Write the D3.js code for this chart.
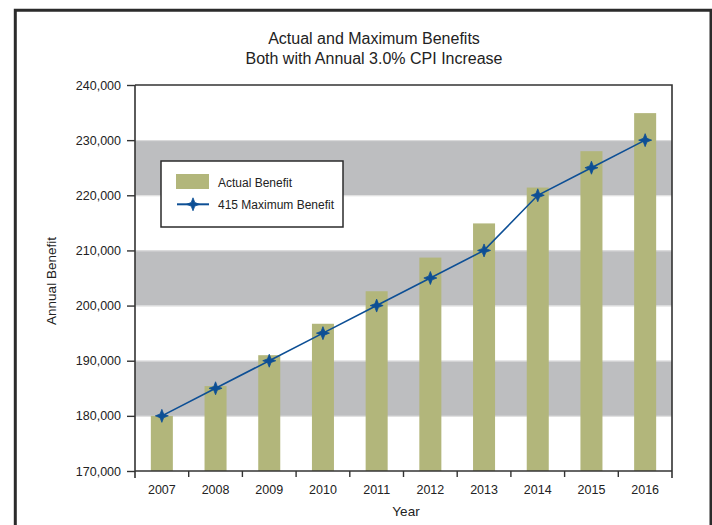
<!DOCTYPE html>
<html><head><meta charset="utf-8">
<script src="https://cdn.jsdelivr.net/npm/d3@7"></script>
<style>
html,body{margin:0;padding:0;background:#fff;}
svg{display:block;font-family:"Liberation Sans",Arial,sans-serif;}
</style></head>
<body><svg id="c" width="712" height="525"></svg>
<script>
const years = ["2007","2008","2009","2010","2011","2012","2013","2014","2015","2016"];
const actualBenefit = [180000,185400,191000,196700,202600,208700,214900,221400,228000,234900];
const maxBenefit = [180000,185000,190000,195000,200000,205000,210000,220000,225000,230000];
const yTicks = [170000,180000,190000,200000,210000,220000,230000,240000];
const bandRanges = [[180000,190000],[200000,210000],[220000,230000]];
const titleLines = ["Actual and Maximum Benefits","Both with Annual 3.0% CPI Increase"];

const svg = d3.select("#c");
const L=135, R=672, T=85, B=471;
const x = d3.scaleBand().domain(years).range([L,R]).paddingInner(0.59).paddingOuter(0.295);
const xc = d3.scaleBand().domain(years).range([L,R]);
const y = d3.scaleLinear().domain([170000,240000]).range([B,T]);

const axisCol="#333";
// outer frame
svg.append("path").attr("d","M15.3,530V10.3H711V530").attr("fill","none").attr("stroke","#2b2b2b").attr("stroke-width",3);

// title
svg.append("g").selectAll("text").data(titleLines).join("text")
  .attr("x",374).attr("y",(d,i)=>44+i*20).attr("text-anchor","middle")
  .attr("font-size",16).attr("fill","#222").text(d=>d);

// bands
svg.append("g").selectAll("rect").data(bandRanges).join("rect")
  .attr("x",L).attr("width",R-L).attr("y",d=>y(d[1])).attr("height",d=>y(d[0])-y(d[1]))
  .attr("fill","#bdbec0");
svg.append("g").selectAll("line").data(yTicks.slice(1,-1)).join("line")
  .attr("x1",L).attr("x2",R).attr("y1",d=>y(d)+0.5).attr("y2",d=>y(d)+0.5)
  .attr("stroke","#dcdcdc").attr("stroke-width",1);

// bars
svg.append("g").selectAll("rect").data(years).join("rect")
  .attr("x",d=>x(d)).attr("width",x.bandwidth())
  .attr("y",(d,i)=>y(actualBenefit[i])).attr("height",(d,i)=>B-y(actualBenefit[i]))
  .attr("fill","#b2b67b");

// plot frame top/right
svg.append("path").attr("d",`M${L},${T}H${R}V${B+7}`).attr("fill","none").attr("stroke",axisCol).attr("stroke-width",1.6);

// y axis
const yAxis = d3.axisLeft(y).tickValues(yTicks).tickSize(8).tickPadding(6).tickFormat(d3.format(","));
const gy = svg.append("g").attr("transform",`translate(${L},0)`).call(yAxis);
gy.select(".domain").attr("d",`M0,${T}V${B+7}`).attr("stroke",axisCol).attr("stroke-width",1.6);
gy.selectAll(".tick line").attr("stroke",axisCol).attr("stroke-width",1.4);
gy.selectAll(".tick text").attr("font-size",12.5).attr("fill","#222").attr("font-family","Liberation Sans, Arial, sans-serif");

// x axis
const xAxis = d3.axisBottom(xc).tickSize(0).tickPadding(14);
const gx = svg.append("g").attr("transform",`translate(0,${B})`).call(xAxis);
gx.select(".domain").attr("d",`M${L},0H${R}`).attr("stroke",axisCol).attr("stroke-width",1.6);
gx.selectAll(".tick text").attr("font-size",12.5).attr("fill","#222").attr("font-family","Liberation Sans, Arial, sans-serif");
gx.selectAll("line.sep").data(years.slice(1)).join("line").attr("class","sep")
  .attr("x1",d=>xc(d)).attr("x2",d=>xc(d)).attr("y1",0).attr("y2",6)
  .attr("stroke",axisCol).attr("stroke-width",1.4);

// axis titles
svg.append("text").attr("x",406).attr("y",516).attr("text-anchor","middle").attr("font-size",13.5).attr("fill","#222").text("Year");
svg.append("text").attr("transform","translate(56,281) rotate(-90)").attr("text-anchor","middle").attr("font-size",13.5).attr("fill","#222").text("Annual Benefit");

// line
const lineCol="#0d4f95";
const line = d3.line().x((d,i)=>xc(years[i])+xc.bandwidth()/2).y(d=>y(d));
svg.append("path").datum(maxBenefit).attr("d",line).attr("fill","none").attr("stroke",lineCol).attr("stroke-width",1.6);
const star = "M0,-6.5L1.8,-1.8L6.5,0L1.8,1.8L0,6.5L-1.8,1.8L-6.5,0L-1.8,-1.8Z";
svg.append("g").selectAll("path").data(maxBenefit).join("path")
  .attr("transform",(d,i)=>`translate(${xc(years[i])+xc.bandwidth()/2},${y(d)})`)
  .attr("d",star).attr("fill",lineCol).attr("stroke",lineCol).attr("stroke-width",0.8);

// legend
const lg = svg.append("g");
lg.append("rect").attr("x",161).attr("y",161).attr("width",182).attr("height",66).attr("fill","#fff").attr("stroke","#2b2b2b").attr("stroke-width",1.5);
lg.append("rect").attr("x",176).attr("y",174).attr("width",33).attr("height",15).attr("fill","#b2b67b");
lg.append("text").attr("x",218).attr("y",186.5).attr("font-size",12).attr("fill","#222").text("Actual Benefit");
lg.append("line").attr("x1",177).attr("x2",209).attr("y1",204.3).attr("y2",204.3).attr("stroke",lineCol).attr("stroke-width",2);
lg.append("path").attr("transform","translate(193,204.3)").attr("d",star).attr("fill",lineCol).attr("stroke",lineCol).attr("stroke-width",0.8);
lg.append("text").attr("x",218).attr("y",208.7).attr("font-size",12).attr("fill","#222").text("415 Maximum Benefit");
</script></body></html>
